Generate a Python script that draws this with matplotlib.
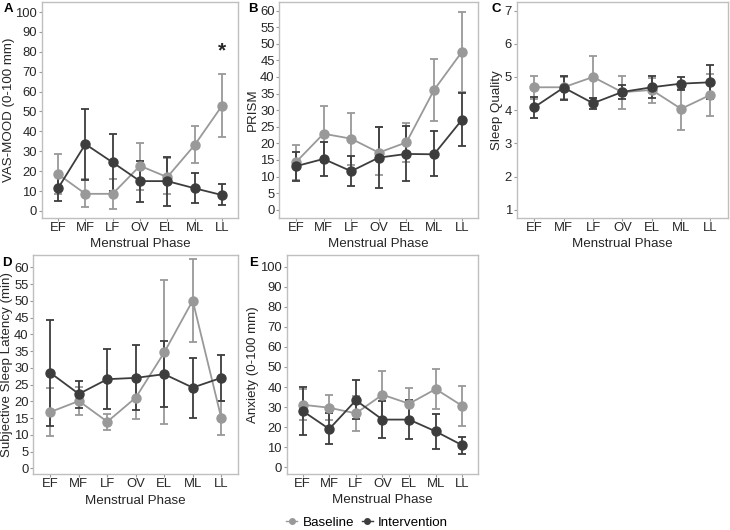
import matplotlib
matplotlib.use("Agg")
import matplotlib.pyplot as plt
from matplotlib.lines import Line2D
import numpy as np

plt.rcParams['font.family'] = ['Liberation Sans', 'DejaVu Sans']

phases = ["EF", "MF", "LF", "OV", "EL", "ML", "LL"]

# A: VAS-MOOD (0-100 mm)
mood_base = [18.5, 8.6, 8.6, 22.7, 17.0, 33.1, 52.8]
mood_base_lo = [8.5, 2.0, 1.2, 10.4, 8.5, 23.9, 37.0]
mood_base_hi = [28.4, 16.0, 16.0, 34.3, 26.5, 42.5, 68.6]
mood_int = [11.4, 33.6, 24.4, 15.0, 15.0, 11.4, 8.0]
mood_int_lo = [5.0, 15.5, 10.2, 4.4, 2.7, 3.9, 2.8]
mood_int_hi = [17.8, 51.1, 38.8, 25.2, 27.2, 19.2, 13.3]

# B: PRISM
prism_base = [14.3, 22.9, 21.4, 17.2, 20.3, 36.1, 47.5]
prism_base_lo = [9.0, 14.5, 13.5, 10.6, 14.5, 26.7, 35.5]
prism_base_hi = [19.5, 31.3, 29.2, 24.8, 26.2, 45.5, 59.5]
prism_int = [13.1, 15.3, 11.6, 15.7, 16.8, 16.7, 27.0]
prism_int_lo = [8.7, 10.2, 7.1, 6.6, 8.7, 10.1, 19.2]
prism_int_hi = [17.5, 20.5, 16.2, 24.8, 25.3, 23.6, 35.1]

# C: Sleep Quality
sleep_base = [4.69, 4.69, 5.0, 4.54, 4.61, 4.04, 4.46]
sleep_base_lo = [4.35, 4.35, 4.38, 4.03, 4.21, 3.41, 3.82]
sleep_base_hi = [5.04, 5.01, 5.62, 5.04, 4.98, 4.65, 5.09]
sleep_int = [4.09, 4.68, 4.21, 4.55, 4.69, 4.80, 4.84]
sleep_int_lo = [3.77, 4.31, 4.05, 4.35, 4.38, 4.60, 4.33]
sleep_int_hi = [4.40, 5.02, 4.38, 4.76, 5.04, 5.01, 5.35]

# D: Subjective Sleep Latency (min)
lat_base = [16.8, 20.1, 13.9, 21.1, 34.6, 50.1, 15.1]
lat_base_lo = [9.6, 15.8, 11.5, 14.7, 13.1, 37.7, 9.8]
lat_base_hi = [24.1, 24.3, 16.2, 27.5, 56.1, 62.4, 20.2]
lat_int = [28.5, 22.2, 26.6, 27.0, 28.1, 24.1, 27.0]
lat_int_lo = [12.5, 18.0, 17.6, 17.4, 18.3, 15.0, 20.2]
lat_int_hi = [44.4, 26.2, 35.5, 36.8, 37.9, 33.0, 33.9]

# E: Anxiety (0-100 mm)
anx_base = [31.2, 29.7, 26.9, 36.2, 31.7, 39.0, 30.6]
anx_base_lo = [23.4, 23.6, 17.9, 24.8, 23.6, 29.2, 20.8]
anx_base_hi = [38.9, 35.9, 35.7, 48.0, 39.7, 49.2, 40.7]
anx_int = [28.1, 19.1, 33.4, 23.8, 23.8, 17.9, 11.0]
anx_int_lo = [16.1, 11.5, 23.9, 14.8, 14.3, 9.1, 6.6]
anx_int_hi = [40.2, 26.9, 43.5, 32.9, 33.7, 26.6, 15.3]

BASE_COL = "#999999"
INT_COL = "#3d3d3d"
TXT_COL = "#262626"
FS = 9.6
TICK_FS = 9.4


def draw_series(ax, x, y, lo, hi, color):
    y = np.array(y)
    err = [y - np.array(lo), np.array(hi) - y]
    ax.errorbar(x, y, yerr=err, color=color, ecolor=color, elinewidth=1.3,
                capsize=2.8, capthick=1.3, linewidth=1.3, marker="o",
                markersize=6.5, zorder=3)


def panel(rect, letter, ylabel, base, base_lo, base_hi, intv, int_lo, int_hi,
          ylim, yticks, ylab_x, letter_x):
    ax = fig.add_axes(rect)
    x = np.arange(1, len(phases) + 1)
    draw_series(ax, x, base, base_lo, base_hi, BASE_COL)
    draw_series(ax, x, intv, int_lo, int_hi, INT_COL)
    ax.set_xlim(0.4, 7.6)
    ax.set_ylim(*ylim)
    ax.set_xticks(x)
    ax.set_xticklabels(phases)
    ax.set_yticks(yticks)
    for s in ax.spines.values():
        s.set_color("#bfbfbf")
        s.set_linewidth(1.0)
    ax.tick_params(length=2.2, width=0.8, color="#999999", labelsize=TICK_FS,
                   labelcolor=TXT_COL, pad=1.2)
    ax.tick_params(axis="x", pad=0.8)
    ax.set_xlabel("Menstrual Phase", fontsize=FS, color=TXT_COL, va="top")
    ax.xaxis.set_label_coords(0.5, -0.093)
    ax.set_ylabel(ylabel, fontsize=FS, color=TXT_COL, va="center")
    ax.yaxis.set_label_coords(ylab_x, 0.5)
    ax.text(letter_x, 0.965, letter, transform=ax.transAxes, fontsize=9.5,
            fontweight="bold", ha="center", va="center")
    return ax


fig = plt.figure(figsize=(7.3, 5.3), dpi=100)

ax_a = panel([0.0571, 0.5881, 0.2693, 0.4087], "A", "VAS-MOOD (0-100 mm)",
             mood_base, mood_base_lo, mood_base_hi, mood_int, mood_int_lo, mood_int_hi,
             (-3.7, 105.2), np.arange(0, 101, 10), -0.166, -0.17)
ax_a.text(7, 80.5, "*", ha="center", va="center", fontsize=15,
          fontweight="bold", color=TXT_COL)

panel([0.3826, 0.5881, 0.2726, 0.4087], "B", "PRISM",
      prism_base, prism_base_lo, prism_base_hi, prism_int, prism_int_lo, prism_int_hi,
      (-2.6, 62.7), np.arange(0, 61, 5), -0.134, -0.135)

panel([0.7078, 0.5881, 0.2895, 0.4087], "C", "Sleep Quality",
      sleep_base, sleep_base_lo, sleep_base_hi, sleep_int, sleep_int_lo, sleep_int_hi,
      (0.74, 7.27), np.arange(1, 8, 1), -0.093, -0.095)

panel([0.0456, 0.1051, 0.2808, 0.4138], "D", "Subjective Sleep Latency (min)",
      lat_base, lat_base_lo, lat_base_hi, lat_int, lat_int_lo, lat_int_hi,
      (-1.8, 63.7), np.arange(0, 61, 5), -0.128, -0.128)

panel([0.3927, 0.1057, 0.2625, 0.4132], "E", "Anxiety (0-100 mm)",
      anx_base, anx_base_lo, anx_base_hi, anx_int, anx_int_lo, anx_int_hi,
      (-3.3, 105.8), np.arange(0, 101, 10), -0.176, -0.175)

handles = [Line2D([0], [0], color=BASE_COL, marker="o", markersize=4, linewidth=1),
           Line2D([0], [0], color=INT_COL, marker="o", markersize=4, linewidth=1)]
fig.legend(handles, ["Baseline", "Intervention"], loc="center", ncol=2,
           bbox_to_anchor=(0.503, 0.014), frameon=False, fontsize=FS,
           handlelength=0.8, handletextpad=0.4, columnspacing=0.6)

fig.savefig("out.png", dpi=100)
